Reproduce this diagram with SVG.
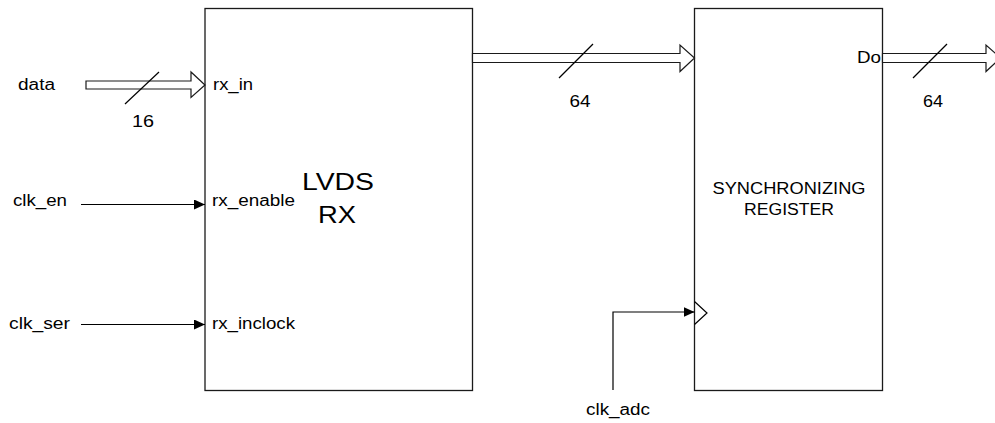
<svg xmlns="http://www.w3.org/2000/svg" width="995" height="423" viewBox="0 0 995 423">
<style>
.box{fill:#fff;stroke:#1a1a1a;stroke-width:1.3}
.bus{fill:#fff;stroke:#1a1a1a;stroke-width:1.2}
.ln{fill:none;stroke:#000;stroke-width:1.2}
.t{font-family:"Liberation Sans",Arial,sans-serif;font-size:16px;fill:#000}
.big{font-family:"Liberation Sans",Arial,sans-serif;font-size:24px;fill:#000}
.mid{font-family:"Liberation Sans",Arial,sans-serif;font-size:16px;fill:#000}
</style>
<defs>
<marker id="ah" markerWidth="12" markerHeight="10" refX="11" refY="5" orient="auto" markerUnits="userSpaceOnUse">
<path d="M0,0 L11,5 L0,10 Z" fill="#000"/>
</marker>
</defs>
<rect width="995" height="423" fill="#fff"/>
<g id="lvds_rx">
<rect class="box" x="205" y="8.5" width="267.5" height="382"/>
<text class="big" x="338" y="190" text-anchor="middle" textLength="72" lengthAdjust="spacingAndGlyphs">LVDS</text>
<text class="big" x="337" y="223" text-anchor="middle" textLength="38" lengthAdjust="spacingAndGlyphs">RX</text>
<text class="t" x="213" y="90" textLength="40" lengthAdjust="spacingAndGlyphs">rx_in</text>
<text class="t" x="212" y="206" textLength="83" lengthAdjust="spacingAndGlyphs">rx_enable</text>
<text class="t" x="212" y="329" textLength="83" lengthAdjust="spacingAndGlyphs">rx_inclock</text>
</g>
<g id="sync_register">
<rect class="box" x="694.5" y="8.5" width="188" height="382"/>
<text class="mid" x="789" y="193.5" text-anchor="middle" textLength="153" lengthAdjust="spacingAndGlyphs">SYNCHRONIZING</text>
<text class="mid" x="789" y="215" text-anchor="middle" textLength="90" lengthAdjust="spacingAndGlyphs">REGISTER</text>
<text class="t" x="857" y="63" textLength="24" lengthAdjust="spacingAndGlyphs">Do</text>
<polyline class="ln" points="694.5,301.5 707,313 694.5,324.5"/>
</g>
<g id="inputs">
<text class="t" x="18" y="90" textLength="37" lengthAdjust="spacingAndGlyphs">data</text>
<text class="t" x="13" y="206" textLength="54" lengthAdjust="spacingAndGlyphs">clk_en</text>
<text class="t" x="9" y="329" textLength="61" lengthAdjust="spacingAndGlyphs">clk_ser</text>
<text class="t" x="586" y="415" textLength="64" lengthAdjust="spacingAndGlyphs">clk_adc</text>
</g>
<g id="connectors">
<polygon class="bus" points="86,81 191,81 191,72 205,85 191,97.5 191,89 86,89"/>
<line class="ln" x1="125" y1="104" x2="159" y2="72"/>
<text class="t" x="143" y="127" text-anchor="middle" textLength="22" lengthAdjust="spacingAndGlyphs">16</text>
<polygon class="bus" points="472.5,53.5 680,53.5 680,45 694.5,58 680,71.5 680,62.5 472.5,62.5"/>
<line class="ln" x1="559" y1="78" x2="593" y2="44"/>
<text class="t" x="580" y="107" text-anchor="middle" textLength="21" lengthAdjust="spacingAndGlyphs">64</text>
<polygon class="bus" points="882.5,53.5 986,53.5 986,45 1000.5,58 986,71.5 986,62.5 882.5,62.5"/>
<line class="ln" x1="913" y1="78" x2="947" y2="44"/>
<text class="t" x="933" y="107" text-anchor="middle" textLength="20" lengthAdjust="spacingAndGlyphs">64</text>
<line class="ln" x1="81" y1="204.5" x2="205" y2="204.5" marker-end="url(#ah)"/>
<line class="ln" x1="81" y1="324.5" x2="205" y2="324.5" marker-end="url(#ah)"/>
<polyline class="ln" points="613,390 613,312 694.5,312" marker-end="url(#ah)"/>
</g>
</svg>
